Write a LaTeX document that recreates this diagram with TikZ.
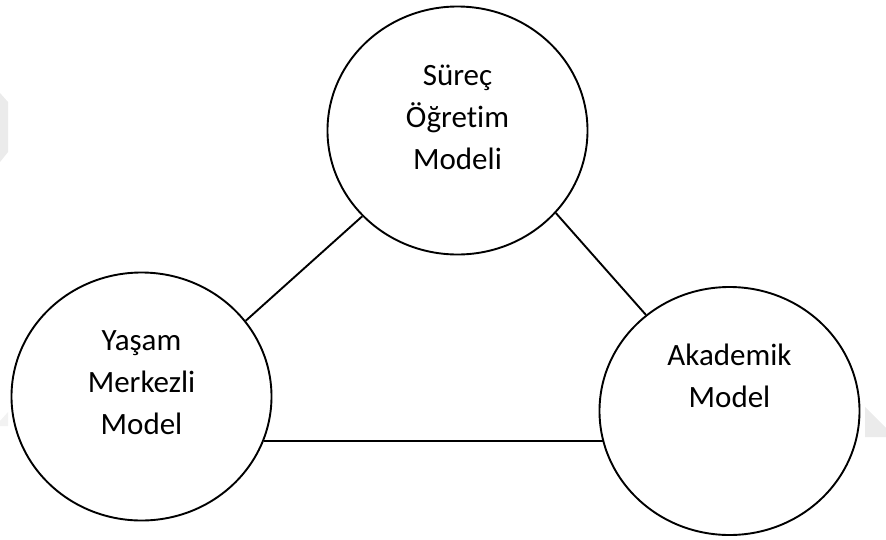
\documentclass[tikz,border=0pt]{standalone}
\usepackage{fontspec}
\setmainfont{Carlito}[Ligatures=NoCommon]
\usetikzlibrary{shapes.geometric}
\tikzset{
  ell/.style={draw=black, line width=1.9pt, ellipse, minimum width=260pt, minimum height=248pt, inner sep=0pt, fill=white},
  lbl/.style={align=center, font=\fontsize{31pt}{42pt}\selectfont, text=black},
  link/.style={draw=black, line width=1.9pt},
  wm/.style={fill=black!8, draw=none}
}
\begin{document}
\begin{tikzpicture}[x=1pt, y=-1pt]
\useasboundingbox (0,0) rectangle (886,539);
% faint watermark fragments
\fill[wm] (0,93) -- (8,102) -- (8,152) -- (0,162) -- cycle;
\fill[wm] (865,407) -- (886,428) -- (886,437) -- (865,437) -- cycle;
\fill[black!5] (0,421) -- (8,412) -- (8,426) -- (0,426) -- cycle;
% circles
\node[ell] (T) at (457.5,130.5) {};
\node[ell] (L) at (141.5,396.5) {};
\node[ell] (R) at (729.5,411) {};
% labels
\node[lbl] (Tt) at (457.5,117) {Süreç\\Öğretim\\Modeli};
\node[lbl] (Lt) at (141.5,383) {Yaşam\\Merkezli\\Model};
\node[lbl] (Rt) at (729.5,376) {Akademik\\Model};
% connectors
\draw[link] (T.-138.8) -- (L.36.7);
\draw[link] (T.-40.9) -- (R.131.7);
\draw[link] (L.-20.9) -- (R.-165.8 |- L.-20.9);
\end{tikzpicture}
\end{document}
